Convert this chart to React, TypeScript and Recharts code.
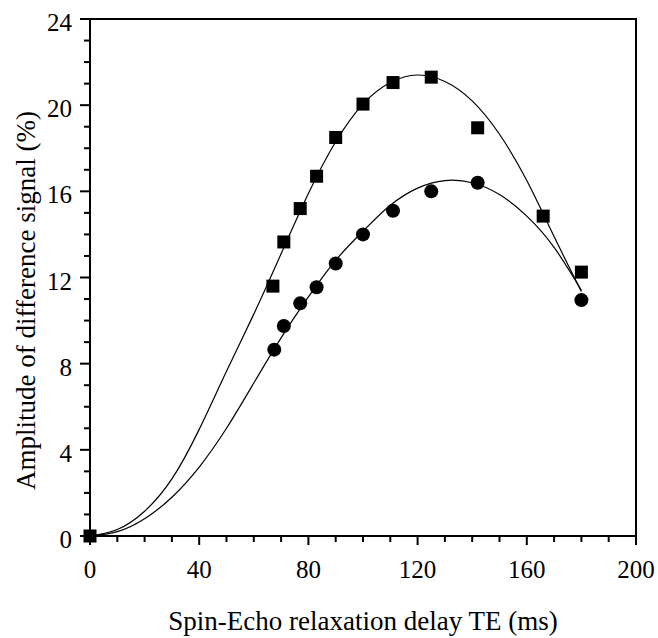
import React from 'react';
import { ComposedChart, Line, Scatter, XAxis, YAxis, ReferenceArea } from 'recharts';

// measured points (TE in ms, amplitude in %)
const squareTE = [0, 67, 71, 77, 83, 90, 100, 111, 125, 142, 166, 180];
const squareAmp = [0, 11.6, 13.65, 15.2, 16.7, 18.5, 20.05, 21.05, 21.3, 18.95, 14.85, 12.25];
const circleTE = [67.5, 71, 77, 83, 90, 100, 111, 125, 142, 180];
const circleAmp = [8.65, 9.75, 10.8, 11.55, 12.65, 14.0, 15.1, 16.0, 16.4, 10.95];

// fitted curves
const fitTE = [0, 10, 20, 30, 40, 50, 60, 70, 80, 90, 100, 110, 120, 130, 140, 150, 160, 170, 180];
const fitUpper = [0, 0.3, 1.15, 2.65, 4.95, 7.65, 10.3, 13.1, 15.9, 18.3, 20.05, 21.05, 21.4, 21.1, 20.2, 18.65, 16.5, 13.9, 11.35];
const fitLower = [0, 0.2, 0.8, 1.8, 3.2, 5.0, 7.1, 9.2, 11.1, 12.8, 14.15, 15.35, 16.15, 16.5, 16.4, 15.85, 14.85, 13.4, 11.4];

const xTicks = [0, 10, 20, 30, 40, 50, 60, 70, 80, 90, 100, 110, 120, 130, 140, 150, 160, 170, 180, 190, 200];
const yTicks = [0, 1, 2, 3, 4, 5, 6, 7, 8, 9, 10, 11, 12, 13, 14, 15, 16, 17, 18, 19, 20, 21, 22, 23, 24];

const serif = { fontFamily: "'Liberation Serif', 'DejaVu Serif', serif" };

const squares = squareTE.map((x, i) => ({ x, y: squareAmp[i] }));
const circles = circleTE.map((x, i) => ({ x, y: circleAmp[i] }));
const upper = fitTE.map((x, i) => ({ x, y: fitUpper[i] }));
const lower = fitTE.map((x, i) => ({ x, y: fitLower[i] }));

const XTick = (props: any) => {
  const { x, y, payload } = props;
  const major = payload.value % 40 === 0;
  return (
    <g>
      <line x1={x} y1={y} x2={x} y2={y + (major ? 9 : 6)} stroke="#000" strokeWidth={2} />
      {major && (
        <text x={x} y={y + 42} textAnchor="middle" fontSize={25} style={serif} fill="#000">
          {payload.value}
        </text>
      )}
    </g>
  );
};

const YTick = (props: any) => {
  const { x, y, payload } = props;
  const major = payload.value % 4 === 0;
  return (
    <g>
      <line x1={x} y1={y} x2={x - (major ? 10 : 6)} y2={y} stroke="#000" strokeWidth={2} />
      {major && (
        <text x={x - 18} y={y + 12} textAnchor="end" fontSize={25} style={serif} fill="#000">
          {payload.value}
        </text>
      )}
    </g>
  );
};

const SquareDot = (props: any) => (
  <rect x={props.cx - 6.5} y={props.cy - 6.5} width={13} height={13} fill="#000" />
);

const CircleDot = (props: any) => <circle cx={props.cx} cy={props.cy} r={7} fill="#000" />;

const XTitle = (props: any) => {
  const vb = props.viewBox || { x: 90, y: 536, width: 546, height: 102 };
  return (
    <text x={vb.x + vb.width / 2} y={vb.y + 94} textAnchor="middle" fontSize={27} style={serif} fill="#000">
      Spin-Echo relaxation delay TE (ms)
    </text>
  );
};

const YTitle = (props: any) => {
  const vb = props.viewBox || { x: 0, y: 19, width: 90, height: 517 };
  const cx = vb.x + 35;
  const cy = vb.y + vb.height / 2 + 23;
  return (
    <text x={cx} y={cy} transform={`rotate(-90, ${cx}, ${cy})`} textAnchor="middle" fontSize={27} style={serif} fill="#000">
      Amplitude of difference signal (%)
    </text>
  );
};

const App: React.FC = () => {
  return (
    <div style={{ position: 'absolute', left: 0, top: 0, width: 658, height: 638, background: '#fff' }}>
      <ComposedChart width={658} height={638} margin={{ top: 19, right: 22, bottom: 0, left: 0 }}>
        <XAxis
          dataKey="x"
          type="number"
          domain={[0, 200]}
          ticks={xTicks}
          interval={0}
          height={102}
          tickSize={0}
          tickMargin={0}
          tickLine={false}
          axisLine={{ stroke: '#000', strokeWidth: 2 }}
          tick={<XTick />}
          label={{ content: <XTitle /> }}
        />
        <YAxis
          dataKey="y"
          type="number"
          domain={[0, 24]}
          ticks={yTicks}
          interval={0}
          width={90}
          tickSize={0}
          tickMargin={0}
          tickLine={false}
          axisLine={{ stroke: '#000', strokeWidth: 2 }}
          tick={<YTick />}
          label={{ content: <YTitle /> }}
        />
        <ReferenceArea x1={0} x2={200} y1={0} y2={24} fill="none" stroke="#000" strokeWidth={2} />
        <Line data={upper} dataKey="y" type="natural" stroke="#000" strokeWidth={1.2} dot={false} isAnimationActive={false} />
        <Line data={lower} dataKey="y" type="natural" stroke="#000" strokeWidth={1.2} dot={false} isAnimationActive={false} />
        <Scatter data={circles} dataKey="y" shape={<CircleDot />} isAnimationActive={false} />
        <Scatter data={squares} dataKey="y" shape={<SquareDot />} isAnimationActive={false} />
      </ComposedChart>
    </div>
  );
};

export default App;
